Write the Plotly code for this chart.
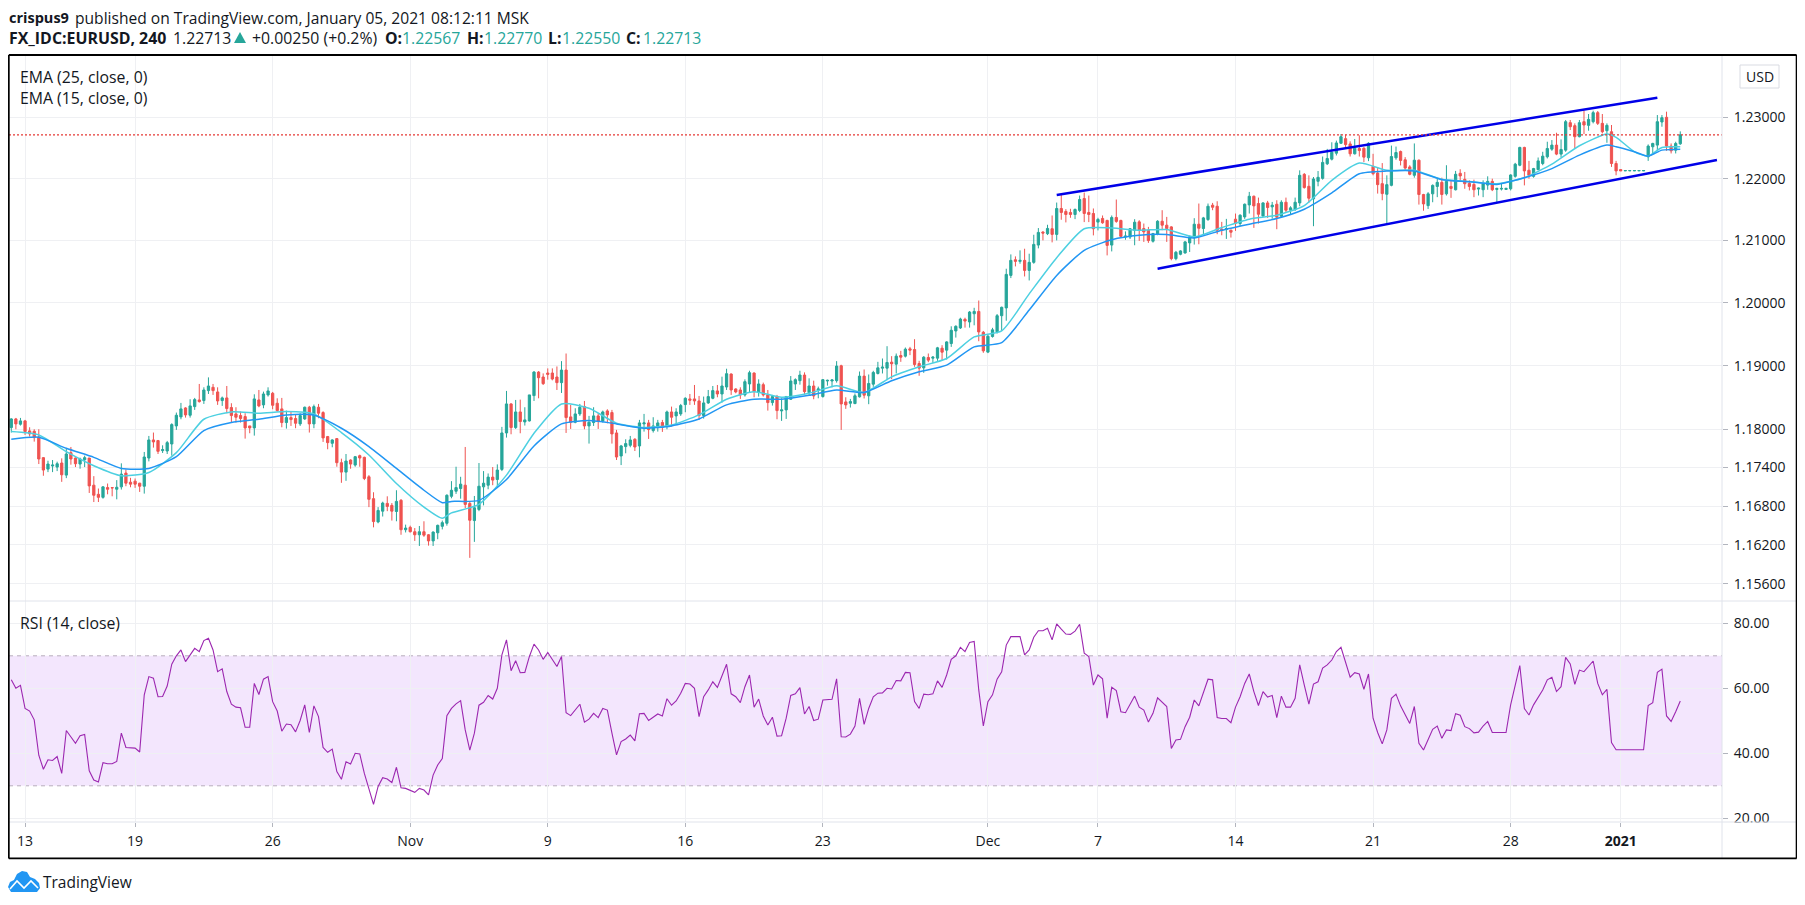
"""EUR/USD 4h chart with EMA(25), EMA(15), channel lines and RSI(14) pane."""

import plotly.graph_objects as go
from plotly.subplots import make_subplots

# ── Colours ───────────────────────────────────────────────────────────────────
UP_COLOUR = "#26a69a"
DOWN_COLOUR = "#ef5350"
EMA15_COLOUR = "#4dd0e1"
EMA25_COLOUR = "#2196f3"
CHANNEL_COLOUR = "#0000e8"
RSI_COLOUR = "#9c27b0"
GRID_COLOUR = "#eff0f3"
AXIS_COLOUR = "#e0e3eb"
TEXT_COLOUR = "#131722"
FONT = "Open Sans"

# ── Candles (4h bars, one per index) ──────────────────────────────────────────
opens = [
    1.18026,1.18162,1.18079,1.18131,1.17974,1.17969,1.17879,1.17555,1.17376,1.17424,
    1.17408,1.17471,1.17282,1.17633,1.17549,1.17455,1.17523,1.17549,1.17125,1.16983,
    1.16936,1.17088,1.17088,1.17062,1.17099,1.17314,1.17172,1.17188,1.17156,1.17109,
    1.17549,1.17832,1.17822,1.17665,1.17659,1.17769,1.18052,1.18194,1.18335,1.18220,
    1.18356,1.18461,1.18451,1.18608,1.18660,1.18587,1.18451,1.18493,1.18341,1.18241,
    1.18215,1.18199,1.18052,1.18021,1.18461,1.18383,1.18540,1.18566,1.18409,1.18320,
    1.18105,1.18183,1.18168,1.18084,1.18162,1.18346,1.18084,1.18346,1.18262,1.17885,
    1.17780,1.17853,1.17476,1.17329,1.17518,1.17439,1.17586,1.17560,1.17256,1.16915,
    1.16554,1.16721,1.16842,1.16811,1.16716,1.16889,1.16433,1.16470,1.16402,1.16355,
    1.16402,1.16355,1.16260,1.16386,1.16486,1.16533,1.16952,1.17031,1.17073,1.17125,
    1.16842,1.16575,1.16748,1.17099,1.17125,1.17251,1.17214,1.17371,1.17942,1.18398,
    1.18026,1.18272,1.18115,1.18131,1.18529,1.18901,1.18823,1.18886,1.18886,1.18823,
    1.18734,1.18933,1.18194,1.18110,1.18241,1.18356,1.18052,1.18105,1.18210,1.18131,
    1.18288,1.18262,1.17942,1.17581,1.17728,1.17748,1.17843,1.17738,1.18084,1.18100,
    1.17979,1.18026,1.18105,1.18042,1.18272,1.18210,1.18241,1.18388,1.18477,1.18477,
    1.18445,1.18215,1.18414,1.18487,1.18603,1.18555,1.18665,1.18870,1.18634,1.18618,
    1.18540,1.18713,1.18886,1.18582,1.18702,1.18540,1.18419,1.18514,1.18288,1.18304,
    1.18472,1.18713,1.18765,1.18854,1.18576,1.18681,1.18618,1.18514,1.18760,1.18760,
    1.18765,1.19001,1.18430,1.18409,1.18404,1.18510,1.18837,1.18526,1.18710,1.18879,
    1.18963,1.18963,1.19058,1.19026,1.19163,1.19153,1.19269,1.19258,1.19037,1.18968,
    1.19132,1.19121,1.19121,1.19279,1.19248,1.19353,1.19553,1.19601,1.19738,1.19696,
    1.19827,1.19864,1.19532,1.19217,1.19464,1.19539,1.19796,1.19920,1.20440,1.20691,
    1.20665,1.20681,1.20520,1.20649,1.20927,1.21136,1.21110,1.21190,1.21099,1.21517,
    1.21469,1.21453,1.21420,1.21485,1.21678,1.21453,1.21436,1.21297,1.21356,1.21324,
    1.20927,1.21372,1.21324,1.21056,1.21056,1.21166,1.21301,1.21193,1.21166,1.20989,
    1.21107,1.21311,1.21247,1.21220,1.20709,1.20779,1.20800,1.20962,1.21048,1.21263,
    1.21193,1.21338,1.21570,1.21553,1.21182,1.21177,1.21166,1.21344,1.21274,1.21381,
    1.21575,1.21715,1.21597,1.21397,1.21607,1.21543,1.21586,1.21392,1.21618,1.21489,
    1.21500,1.21607,1.22070,1.21876,1.21672,1.21957,1.22005,1.22242,1.22317,1.22414,
    1.22576,1.22651,1.22565,1.22404,1.22490,1.22495,1.22339,1.22199,1.22091,1.21919,
    1.21747,1.21892,1.22339,1.22441,1.22307,1.22191,1.22055,1.22300,1.21743,1.21563,
    1.21754,1.21874,1.21940,1.21754,1.21874,1.21820,1.22087,1.21989,1.21924,1.21907,
    1.21831,1.21820,1.21896,1.21956,1.21825,1.21831,1.21825,1.21836,1.22038,1.22218,
    1.22508,1.22137,1.22038,1.22147,1.22246,1.22355,1.22480,1.22546,1.22399,1.22464,
    1.22912,1.22863,1.22683,1.22928,1.22868,1.22928,1.23076,1.22901,1.22781,1.22764,
    1.22246,1.22147,1.22126,1.22126,1.22126,1.22126,1.22126,
    1.22355,1.22519,1.22546,1.22923,1.23000,1.22530,1.22464,1.22567,
]
highs = [
    1.18173,1.18178,1.18178,1.18147,1.18031,1.18000,1.18000,1.17565,1.17507,1.17518,
    1.17492,1.17544,1.17701,1.17722,1.17560,1.17555,1.17586,1.17549,1.17266,1.17073,
    1.17109,1.17151,1.17093,1.17204,1.17466,1.17371,1.17240,1.17230,1.17162,1.17644,
    1.17895,1.17948,1.17832,1.17748,1.17817,1.18094,1.18262,1.18414,1.18346,1.18472,
    1.18493,1.18713,1.18660,1.18817,1.18713,1.18660,1.18514,1.18681,1.18409,1.18346,
    1.18278,1.18252,1.18052,1.18550,1.18618,1.18592,1.18660,1.18587,1.18487,1.18493,
    1.18293,1.18272,1.18225,1.18252,1.18356,1.18367,1.18388,1.18398,1.18283,1.17895,
    1.17843,1.17859,1.17539,1.17612,1.17528,1.17581,1.17602,1.17570,1.17282,1.17015,
    1.16784,1.16868,1.16952,1.16847,1.17046,1.16910,1.16512,1.16496,1.16459,1.16491,
    1.16564,1.16365,1.16407,1.16512,1.16575,1.16983,1.17188,1.17413,1.17256,1.17722,
    1.16863,1.16957,1.17471,1.17345,1.17308,1.17408,1.17450,1.18037,1.18603,1.18409,
    1.18461,1.18466,1.18346,1.18540,1.18917,1.18917,1.18880,1.18959,1.18959,1.18990,
    1.19074,1.19195,1.18383,1.18330,1.18398,1.18445,1.18210,1.18346,1.18252,1.18293,
    1.18314,1.18304,1.17990,1.17754,1.17843,1.17895,1.17859,1.18147,1.18241,1.18147,
    1.18189,1.18147,1.18147,1.18293,1.18356,1.18330,1.18398,1.18503,1.18555,1.18697,
    1.18524,1.18514,1.18618,1.18681,1.18697,1.18828,1.18954,1.18880,1.18645,1.18660,
    1.18786,1.18922,1.18896,1.18786,1.18734,1.18618,1.18540,1.18540,1.18487,1.18524,
    1.18838,1.18802,1.18922,1.18896,1.18802,1.18765,1.18671,1.18791,1.18781,1.18786,
    1.19074,1.19017,1.18503,1.18477,1.18563,1.18910,1.18942,1.18863,1.18921,1.19063,
    1.19116,1.19311,1.19153,1.19195,1.19237,1.19290,1.19300,1.19422,1.19079,1.19153,
    1.19195,1.19153,1.19300,1.19327,1.19390,1.19627,1.19643,1.19764,1.19764,1.19870,
    1.19922,1.20038,1.19553,1.19491,1.19603,1.19823,1.19941,1.20547,1.20777,1.20745,
    1.20842,1.20868,1.20788,1.21093,1.21201,1.21152,1.21254,1.21404,1.21613,1.21742,
    1.21506,1.21512,1.21517,1.21726,1.21774,1.21726,1.21517,1.21367,1.21404,1.21335,
    1.21404,1.21662,1.21335,1.21147,1.21201,1.21344,1.21328,1.21274,1.21220,1.21123,
    1.21328,1.21489,1.21381,1.21231,1.20833,1.20843,1.20994,1.21080,1.21360,1.21597,
    1.21381,1.21597,1.21607,1.21634,1.21301,1.21349,1.21177,1.21435,1.21424,1.21597,
    1.21785,1.21726,1.21693,1.21618,1.21640,1.21623,1.21650,1.21650,1.21693,1.21553,
    1.21693,1.22135,1.22091,1.22054,1.22027,1.22124,1.22360,1.22484,1.22592,1.22619,
    1.22726,1.22716,1.22608,1.22646,1.22705,1.22511,1.22592,1.22404,1.22188,1.22253,
    1.22054,1.22538,1.22522,1.22457,1.22350,1.22218,1.22573,1.22311,1.21754,1.21782,
    1.21907,1.22000,1.22016,1.22218,1.21973,1.22126,1.22153,1.22109,1.21973,1.21984,
    1.21853,1.21973,1.22038,1.22000,1.21853,1.21918,1.21853,1.22071,1.22257,1.22519,
    1.22519,1.22289,1.22175,1.22344,1.22437,1.22601,1.22628,1.22748,1.22639,1.22956,
    1.22956,1.22901,1.22956,1.23108,1.23054,1.23108,1.23103,1.23054,1.22901,1.22874,
    1.22289,1.22147,1.22132,1.22132,1.22132,1.22132,1.22132,
    1.22557,1.22584,1.23037,1.23037,1.23092,1.22573,1.22601,1.22770,
]
lows = [
    1.17948,1.18000,1.18058,1.17911,1.17885,1.17806,1.17455,1.17272,1.17329,1.17329,
    1.17345,1.17177,1.17235,1.17445,1.17408,1.17382,1.17408,1.17004,1.16863,1.16863,
    1.16915,1.16983,1.16952,1.16905,1.17057,1.17109,1.17093,1.17083,1.17020,1.16994,
    1.17497,1.17712,1.17612,1.17628,1.17612,1.17586,1.17990,1.18157,1.18183,1.18183,
    1.18304,1.18419,1.18398,1.18555,1.18540,1.18383,1.18367,1.18252,1.18105,1.18105,
    1.18105,1.17853,1.17937,1.17900,1.18346,1.18330,1.18514,1.18314,1.18278,1.18031,
    1.18010,1.18052,1.18016,1.18052,1.18147,1.17948,1.18016,1.18173,1.17801,1.17686,
    1.17717,1.17413,1.17162,1.17193,1.17382,1.17413,1.17413,1.17204,1.16784,1.16470,
    1.16533,1.16638,1.16721,1.16575,1.16564,1.16355,1.16391,1.16391,1.16260,1.16182,
    1.16323,1.16187,1.16182,1.16286,1.16438,1.16496,1.16921,1.16989,1.16915,1.16769,
    1.15998,1.16245,1.16721,1.16811,1.17062,1.17125,1.17099,1.17345,1.17869,1.17921,
    1.18005,1.17937,1.18058,1.18121,1.18445,1.18487,1.18697,1.18781,1.18770,1.18618,
    1.18571,1.17942,1.18005,1.18094,1.18210,1.18000,1.17775,1.18052,1.18005,1.18105,
    1.18094,1.17775,1.17518,1.17439,1.17623,1.17717,1.17659,1.17560,1.17963,1.17848,
    1.17948,1.17963,1.17958,1.18000,1.18042,1.18068,1.18210,1.18267,1.18383,1.18383,
    1.18147,1.18168,1.18398,1.18472,1.18503,1.18419,1.18618,1.18540,1.18566,1.18477,
    1.18514,1.18587,1.18503,1.18514,1.18514,1.18293,1.18372,1.18157,1.18131,1.18162,
    1.18461,1.18618,1.18702,1.18540,1.18540,1.18472,1.18487,1.18498,1.18686,1.18660,
    1.18734,1.17990,1.18320,1.18341,1.18394,1.18499,1.18484,1.18394,1.18668,1.18863,
    1.18879,1.18773,1.18789,1.18879,1.19063,1.19132,1.19169,1.18984,1.18842,1.18889,
    1.19058,1.19047,1.19079,1.19090,1.19100,1.19300,1.19448,1.19585,1.19606,1.19606,
    1.19643,1.19390,1.19206,1.19201,1.19448,1.19512,1.19555,1.19716,1.20397,1.20584,
    1.20627,1.20423,1.20359,1.20627,1.20874,1.21002,1.21088,1.20970,1.21002,1.21335,
    1.21292,1.21367,1.21345,1.21458,1.21297,1.21297,1.21083,1.21163,1.21270,1.20761,
    1.20825,1.21286,1.21045,1.21013,1.21024,1.20924,1.20994,1.20978,1.20962,1.20967,
    1.21085,1.21166,1.20978,1.20682,1.20682,1.20763,1.20790,1.20816,1.20935,1.20940,
    1.21085,1.21317,1.21489,1.21102,1.21085,1.21026,1.21048,1.21155,1.21231,1.21349,
    1.21435,1.21204,1.21274,1.21381,1.21365,1.21354,1.21182,1.21371,1.21446,1.21424,
    1.21478,1.21553,1.21839,1.21607,1.21231,1.21876,1.21984,1.22221,1.22296,1.22377,
    1.22565,1.22484,1.22360,1.22393,1.22360,1.22269,1.22285,1.22054,1.21758,1.21650,
    1.21274,1.21876,1.22307,1.22215,1.22135,1.22055,1.22016,1.21580,1.21481,1.21509,
    1.21618,1.21700,1.21580,1.21727,1.21689,1.21809,1.21973,1.21836,1.21809,1.21700,
    1.21727,1.21700,1.21820,1.21798,1.21618,1.21809,1.21825,1.21809,1.22016,1.22202,
    1.21891,1.22000,1.22016,1.22137,1.22218,1.22328,1.22453,1.22382,1.22344,1.22437,
    1.22792,1.22491,1.22672,1.22726,1.22781,1.22901,1.22874,1.22737,1.22584,1.22191,
    1.22055,1.22126,1.22126,1.22126,1.22126,1.22126,1.22126,
    1.22289,1.22410,1.22464,1.22846,1.22453,1.22410,1.22410,1.22550,
]
closes = [
    1.18162,1.18084,1.18131,1.17963,1.17927,1.17869,1.17534,1.17361,1.17455,1.17439,
    1.17460,1.17287,1.17612,1.17534,1.17460,1.17534,1.17555,1.17114,1.16968,1.16936,
    1.17099,1.17062,1.17083,1.17093,1.17298,1.17156,1.17141,1.17141,1.17109,1.17565,
    1.17832,1.17801,1.17654,1.17680,1.17790,1.18073,1.18220,1.18320,1.18225,1.18367,
    1.18466,1.18435,1.18618,1.18681,1.18608,1.18445,1.18493,1.18325,1.18215,1.18189,
    1.18168,1.18021,1.18021,1.18477,1.18367,1.18555,1.18603,1.18377,1.18293,1.18105,
    1.18183,1.18152,1.18094,1.18215,1.18346,1.18084,1.18356,1.18252,1.17864,1.17790,
    1.17832,1.17476,1.17329,1.17502,1.17455,1.17570,1.17549,1.17230,1.16905,1.16559,
    1.16732,1.16847,1.16795,1.16721,1.16873,1.16433,1.16459,1.16402,1.16355,1.16402,
    1.16349,1.16260,1.16397,1.16501,1.16543,1.16968,1.17046,1.17088,1.17141,1.16826,
    1.16580,1.16774,1.17109,1.17156,1.17251,1.17204,1.17361,1.17942,1.18398,1.18026,
    1.18272,1.18121,1.18147,1.18540,1.18901,1.18812,1.18718,1.18865,1.18791,1.18734,
    1.18933,1.18183,1.18110,1.18241,1.18346,1.18052,1.18110,1.18210,1.18121,1.18272,
    1.18225,1.17927,1.17565,1.17738,1.17775,1.17832,1.17722,1.18100,1.18100,1.17995,
    1.18052,1.18100,1.18031,1.18272,1.18189,1.18272,1.18372,1.18487,1.18456,1.18445,
    1.18215,1.18414,1.18514,1.18608,1.18555,1.18681,1.18875,1.18618,1.18587,1.18540,
    1.18749,1.18891,1.18592,1.18713,1.18540,1.18419,1.18514,1.18293,1.18304,1.18514,
    1.18760,1.18781,1.18854,1.18592,1.18681,1.18524,1.18634,1.18781,1.18770,1.18776,
    1.18996,1.18398,1.18383,1.18435,1.18526,1.18837,1.18536,1.18721,1.18895,1.18968,
    1.18979,1.19053,1.19032,1.19153,1.19137,1.19264,1.19248,1.19021,1.18963,1.19137,
    1.19090,1.19137,1.19285,1.19216,1.19379,1.19564,1.19627,1.19743,1.19711,1.19854,
    1.19864,1.19538,1.19237,1.19469,1.19571,1.19796,1.19930,1.20456,1.20681,1.20665,
    1.20681,1.20520,1.20649,1.20938,1.21131,1.21120,1.21195,1.21099,1.21517,1.21453,
    1.21420,1.21420,1.21501,1.21662,1.21436,1.21420,1.21190,1.21340,1.21286,1.20922,
    1.21372,1.21308,1.21067,1.21072,1.21190,1.21295,1.21166,1.21139,1.20999,1.21112,
    1.21311,1.21247,1.21193,1.20709,1.20811,1.20833,1.20978,1.21059,1.21263,1.21198,
    1.21365,1.21553,1.21537,1.21166,1.21161,1.21193,1.21134,1.21279,1.21408,1.21586,
    1.21715,1.21559,1.21424,1.21607,1.21532,1.21570,1.21376,1.21618,1.21489,1.21527,
    1.21618,1.22054,1.21855,1.21683,1.21995,1.22022,1.22264,1.22328,1.22430,1.22581,
    1.22683,1.22554,1.22404,1.22495,1.22457,1.22350,1.22576,1.22081,1.21903,1.21758,
    1.21903,1.22360,1.22425,1.22296,1.22172,1.22071,1.22300,1.21743,1.21591,1.21754,
    1.21891,1.21940,1.21743,1.21956,1.21842,1.22071,1.22044,1.21918,1.21874,1.21820,
    1.21847,1.21918,1.21956,1.21820,1.21842,1.21842,1.21842,1.22060,1.22235,1.22508,
    1.22126,1.22055,1.22164,1.22289,1.22366,1.22491,1.22546,1.22399,1.22475,1.22928,
    1.22846,1.22683,1.22912,1.22874,1.22966,1.23076,1.22901,1.22764,1.22868,1.22246,
    1.22126,1.22126,1.22132,1.22132,1.22132,1.22132,1.22132,
    1.22530,1.22573,1.22928,1.22994,1.22530,1.22453,1.22573,1.22713,
]

# ── EMA lines, read at every sixth bar or so ──────────────────────────────────
ema_bars = [
    0, 6, 12, 18, 24, 30, 36, 42, 48, 54, 60, 66, 72, 78, 84, 90, 94, 96, 102, 108,
    114, 120, 126, 132, 138, 144, 150, 156, 162, 168, 174, 180, 186, 192, 198, 204,
    210, 216, 222, 228, 234, 240, 246, 252, 258, 264, 270, 276, 282, 288, 294, 300,
    306, 312, 318, 324, 330, 336, 342, 348, 350, 354, 357, 360, 364,
]
ema15 = [
    1.17963,1.17911,1.17649,1.17429,1.17272,1.17324,1.17633,1.18157,1.18272,1.18252,
    1.18278,1.18241,1.17948,1.17597,1.17151,1.16784,1.16611,1.16695,1.16826,1.17282,
    1.17937,1.18398,1.18330,1.18094,1.18026,1.18068,1.18225,1.18472,1.18592,1.18503,
    1.18566,1.18686,1.18578,1.18826,1.18984,1.19116,1.19458,1.19555,1.20145,1.20724,
    1.21190,1.21201,1.21166,1.21177,1.21059,1.21209,1.21344,1.21408,1.21564,1.21973,
    1.22253,1.22135,1.22137,1.21989,1.21956,1.21918,1.22016,1.22235,1.22535,1.22726,
    1.22672,1.22437,1.22366,1.22508,1.22519,
]
ema25 = [
    1.17843,1.17874,1.17701,1.17560,1.17387,1.17387,1.17570,1.17979,1.18105,1.18157,
    1.18225,1.18220,1.18016,1.17728,1.17387,1.17046,1.16852,1.16873,1.16889,1.17214,
    1.17738,1.18084,1.18136,1.18084,1.18016,1.18052,1.18162,1.18383,1.18472,1.18472,
    1.18534,1.18618,1.18578,1.18763,1.18905,1.19011,1.19300,1.19368,1.19887,1.20440,
    1.20842,1.21013,1.21085,1.21096,1.21042,1.21166,1.21263,1.21354,1.21505,1.21769,
    1.22081,1.22124,1.22126,1.21984,1.21951,1.21907,1.22016,1.22164,1.22382,1.22546,
    1.22519,1.22437,1.22366,1.22464,1.22480,
]

# ── Channel drawn on the chart: bar number and price at each end ──────────────
upper_channel_bars = [228, 359]
upper_channel_prices = [1.21735, 1.23321]
lower_channel_bars = [250, 372]
lower_channel_prices = [1.20545, 1.22305]

# ── RSI (14), one per bar ─────────────────────────────────────────────────────
rsi = [
    62.6,60.0,60.9,53.8,53.0,50.3,39.4,35.1,38.0,37.8,39.0,33.8,47.0,45.1,43.1,45.4,
    45.8,34.6,31.8,31.2,37.1,36.8,36.8,37.5,46.2,41.8,41.8,41.6,40.4,58.0,63.6,63.1,
    57.4,57.5,60.7,67.4,70.0,71.8,68.2,70.3,72.3,71.3,74.7,75.4,71.8,65.1,66.0,59.0,
    55.1,54.2,54.0,48.0,48.0,61.5,58.1,62.8,63.6,55.9,53.0,46.8,49.0,48.8,46.6,50.1,
    54.9,46.4,54.6,51.3,41.8,40.3,41.3,34.4,32.0,37.4,36.7,40.0,39.8,33.8,28.7,24.3,
    29.8,32.5,32.1,31.0,35.7,29.4,29.2,28.7,28.0,29.2,28.7,27.2,33.3,36.4,38.4,51.6,
    53.8,55.2,56.2,47.2,41.0,46.2,54.8,55.7,57.8,56.7,60.0,70.3,74.9,65.4,68.5,64.8,
    64.9,69.8,73.6,71.8,68.9,71.0,68.9,66.7,69.8,52.5,51.6,53.3,55.1,49.6,50.5,52.3,
    51.0,53.8,53.3,46.2,39.5,43.6,44.4,45.6,43.8,52.2,52.3,50.1,51.1,52.1,51.5,56.8,
    54.8,56.1,58.5,61.5,61.3,60.0,51.3,57.4,59.5,62.0,60.3,63.6,67.4,58.3,57.4,55.6,
    60.5,64.1,54.2,56.7,51.5,48.7,51.1,45.3,45.4,50.8,57.8,58.3,60.2,52.1,54.4,50.1,
    50.5,56.4,56.5,56.6,62.9,45.1,45.0,45.9,48.4,56.9,48.9,53.8,57.4,58.5,58.6,60.0,
    59.8,62.4,
    62.3,64.9,64.8,55.9,53.8,58.2,58.0,58.3,62.3,60.3,64.1,68.9,70.0,72.6,71.3,74.1,
    74.4,59.5,48.4,55.9,58.0,62.8,65.1,73.3,75.9,75.9,75.9,70.3,71.8,75.7,77.7,77.7,
    78.5,74.9,79.8,78.2,76.7,76.6,77.6,79.7,70.8,69.8,61.0,64.1,62.9,50.8,60.3,59.3,
    52.8,52.5,55.2,57.6,54.2,53.3,49.6,52.3,57.1,55.6,54.4,41.5,44.1,44.3,48.2,51.1,
    56.4,54.6,58.7,62.8,62.6,51.0,50.7,50.7,49.4,54.2,57.4,61.5,64.4,59.0,54.7,59.0,
    57.3,57.8,51.0,57.6,54.2,54.2,56.9,67.2,61.0,55.1,61.3,62.0,66.2,67.2,68.7,71.3,
    72.6,68.0,63.4,64.8,64.4,59.7,64.4,50.8,46.4,42.9,47.2,56.9,58.2,54.6,51.8,49.2,
    54.4,43.1,41.0,44.3,47.4,48.4,44.6,47.2,47.0,52.2,51.7,48.2,47.6,46.3,46.5,48.4,
    49.8,46.4,46.4,46.4,46.4,54.9,60.5,67.0,53.8,51.8,54.9,57.4,59.5,62.6,63.4,59.0,
    60.5,69.5,67.5,61.2,65.6,65.1,66.7,68.4,61.5,58.0,59.7,43.3,41.1,41.1,41.1,41.1,
    41.1,41.1,41.1,54.7,55.6,64.9,65.9,51.5,49.8,52.8,56.1,
]

# ── Axis ticks ────────────────────────────────────────────────────────────────
price_ticks = [1.23, 1.22, 1.21, 1.20, 1.19, 1.18, 1.174, 1.168, 1.162, 1.156]
rsi_ticks = [20, 40, 60, 80]
date_ticks = [3, 27, 57, 87, 117, 147, 177, 213, 237, 267, 297, 327, 351]
date_labels = ["13", "19", "26", "Nov", "9", "16", "23", "Dec", "7", "14", "21", "28", "<b>2021</b>"]

bars = list(range(len(closes)))

# Page pixels -> paper fractions. The page has an 8px body margin, the plot area
# runs from x=9 to 1722 and y=56 to 822 on the page.
def fx(x):
    return (x - 9) / 1713


def fy(y):
    return (822 - y) / 766


def page_line(x0, y0, x1, y1, colour=AXIS_COLOUR, width=1.0):
    return dict(type="line", xref="paper", yref="paper", x0=fx(x0), y0=fy(y0), x1=fx(x1), y1=fy(y1),
                line=dict(color=colour, width=width), layer="above")


def page_path(points, closed=True, **style):
    path = "M " + " L ".join(f"{fx(x):.5f},{fy(y):.5f}" for x, y in points)
    return dict(type="path", xref="paper", yref="paper", layer="above",
                path=path + (" Z" if closed else ""), **style)


def page_text(x, y, text, size=15.8, colour=TEXT_COLOUR, xanchor="left"):
    return dict(xref="paper", yref="paper", x=fx(x), y=fy(y), text=text, showarrow=False,
                xanchor=xanchor, yanchor="middle", align="left", borderpad=0,
                font=dict(family=FONT, size=size, color=colour))


fig = make_subplots(rows=2, cols=1, shared_xaxes=True, vertical_spacing=0, row_heights=[0.7115, 0.2885])

fig.add_trace(
    go.Candlestick(
        x=bars, open=opens, high=highs, low=lows, close=closes,
        increasing=dict(line=dict(color=UP_COLOUR, width=1), fillcolor=UP_COLOUR),
        decreasing=dict(line=dict(color=DOWN_COLOUR, width=1), fillcolor=DOWN_COLOUR),
        whiskerwidth=0, hoverinfo="skip",
    ),
    row=1, col=1,
)
fig.add_trace(
    go.Scatter(x=ema_bars, y=ema15, mode="lines", line=dict(color=EMA15_COLOUR, width=1.5, shape="spline", smoothing=0.6)),
    row=1, col=1,
)
fig.add_trace(
    go.Scatter(x=ema_bars, y=ema25, mode="lines", line=dict(color=EMA25_COLOUR, width=1.5, shape="spline", smoothing=0.6)),
    row=1, col=1,
)
fig.add_trace(
    go.Scatter(x=upper_channel_bars, y=upper_channel_prices, mode="lines", line=dict(color=CHANNEL_COLOUR, width=2.5)),
    row=1, col=1,
)
fig.add_trace(
    go.Scatter(x=lower_channel_bars, y=lower_channel_prices, mode="lines", line=dict(color=CHANNEL_COLOUR, width=2.5)),
    row=1, col=1,
)
fig.add_hline(y=closes[-1], line_color="#e53935", line_dash="2px,2px", line_width=1.2, row=1, col=1)

fig.add_trace(
    go.Scatter(x=bars[:len(rsi)], y=rsi, mode="lines", line=dict(color=RSI_COLOUR, width=1.1)),
    row=2, col=1,
)
# RSI band goes in after the trace, add_hrect skips subplots that are still empty
fig.add_hrect(y0=30, y1=70, fillcolor="rgba(155,47,238,0.12)", line_width=0, layer="below", row=2, col=1)
for level in [30, 70]:
    fig.add_hline(y=level, line_color="#b8aebd", line_dash="4px,4px", line_width=1, layer="below", row=2, col=1)

up = f"color:{UP_COLOUR}"
fig.update_layout(
    width=1789,
    height=889,
    margin=dict(l=1, r=75, t=48, b=75),
    plot_bgcolor="#ffffff",
    paper_bgcolor="#ffffff",
    showlegend=False,
    hovermode=False,
    font=dict(family=FONT, color=TEXT_COLOUR, size=14),
    shapes=list(fig.layout.shapes) + [
        # the 20.00 label gets cut off at the bottom of the pane
        page_path([(1723, 822.5), (1795, 822.5), (1795, 857), (1723, 857)], fillcolor="#ffffff", line=dict(width=0)),
        page_line(8.6, 601, 1796, 601),
        page_line(8.6, 822, 1796, 822),
        page_line(1722, 56, 1722, 858),
        # outer frame
        page_line(8.8, 55, 1796.6, 55, "#000000", 1.8),
        page_line(8.8, 858.4, 1796.6, 858.4, "#000000", 1.8),
        page_line(8.8, 55, 8.8, 858.4, "#000000", 1.8),
        page_line(1796.6, 55, 1796.6, 858.4, "#000000", 1.8),
        # USD button
        dict(type="rect", xref="paper", yref="paper", x0=fx(1740), x1=fx(1779), y0=fy(88), y1=fy(65),
             line=dict(color="#d9dbe2", width=1), layer="above"),
        # up arrow in the header
        page_path([(234, 43), (246, 43), (240, 32)], fillcolor=UP_COLOUR, line=dict(width=0)),
        # TradingView mark
        page_path([(11, 892), (8, 887), (10, 882), (14, 880), (17, 874), (22, 871), (27, 872), (30, 877),
                   (35, 879), (39, 883), (40, 888), (37, 892)], fillcolor="#2196f3", line=dict(width=0)),
        page_path([(10, 889), (17, 881), (24, 888), (31, 881), (38, 888)], closed=False,
                  line=dict(color="#ffffff", width=1.6)),
    ],
    annotations=[
        page_text(8, 17.2, "<b>crispus9</b>", 14.5),
        page_text(73.5, 18, "published on TradingView.com, January 05, 2021 08:12:11 MSK", 15.6),
        page_text(8, 38.5, "<b>FX_IDC:EURUSD, 240</b>", 15.9),
        page_text(171.5, 38.5, "1.22713"),
        page_text(251, 38.5, "+0.00250 (+0.2%)"),
        page_text(384, 38.5, "<b>O:</b>"),
        page_text(401, 38.5, f"<span style='{up}'>1.22567</span>"),
        page_text(466, 38.5, "<b>H:</b>"),
        page_text(483, 38.5, f"<span style='{up}'>1.22770</span>"),
        page_text(547, 38.5, "<b>L:</b>"),
        page_text(561, 38.5, f"<span style='{up}'>1.22550</span>"),
        page_text(625, 38.5, "<b>C:</b>"),
        page_text(642, 38.5, f"<span style='{up}'>1.22713</span>"),
        page_text(19, 76.7, "EMA (25, close, 0)"),
        page_text(19, 97.7, "EMA (15, close, 0)"),
        page_text(19, 622.7, "RSI (14, close)"),
        page_text(1759.5, 76.5, "USD", 14, xanchor="center"),
        page_text(42, 881.7, "TradingView", 15.5),
    ],
)

fig.update_xaxes(
    range=[-0.5, 373.1],
    tickmode="array",
    tickvals=date_ticks,
    ticktext=date_labels,
    showgrid=True,
    gridcolor=GRID_COLOUR,
    gridwidth=1,
    zeroline=False,
    rangeslider_visible=False,
)
fig.update_xaxes(showticklabels=False, ticks="", row=1, col=1)
fig.update_xaxes(ticks="outside", ticklen=4, tickcolor="#b2b5be", ticklabelstandoff=2,
                 tickfont=dict(size=14, family=FONT), row=2, col=1)

fig.update_yaxes(
    type="log",
    range=[0.061958, 0.093447],
    side="right",
    tickmode="array",
    tickvals=price_ticks,
    ticktext=[f"{v:.5f}" for v in price_ticks],
    gridcolor=GRID_COLOUR,
    zeroline=False,
    ticks="outside",
    ticklen=5,
    tickcolor="#b2b5be",
    ticklabelstandoff=3,
    tickfont=dict(size=14, family=FONT),
    row=1, col=1,
)
fig.update_yaxes(
    range=[18.86, 86.86],
    side="right",
    tickmode="array",
    tickvals=rsi_ticks,
    ticktext=[f"{v:.2f}" for v in rsi_ticks],
    gridcolor=GRID_COLOUR,
    zeroline=False,
    ticks="outside",
    ticklen=5,
    tickcolor="#b2b5be",
    ticklabelstandoff=3,
    tickfont=dict(size=14, family=FONT),
    row=2, col=1,
)

fig.write_html("out.html")
